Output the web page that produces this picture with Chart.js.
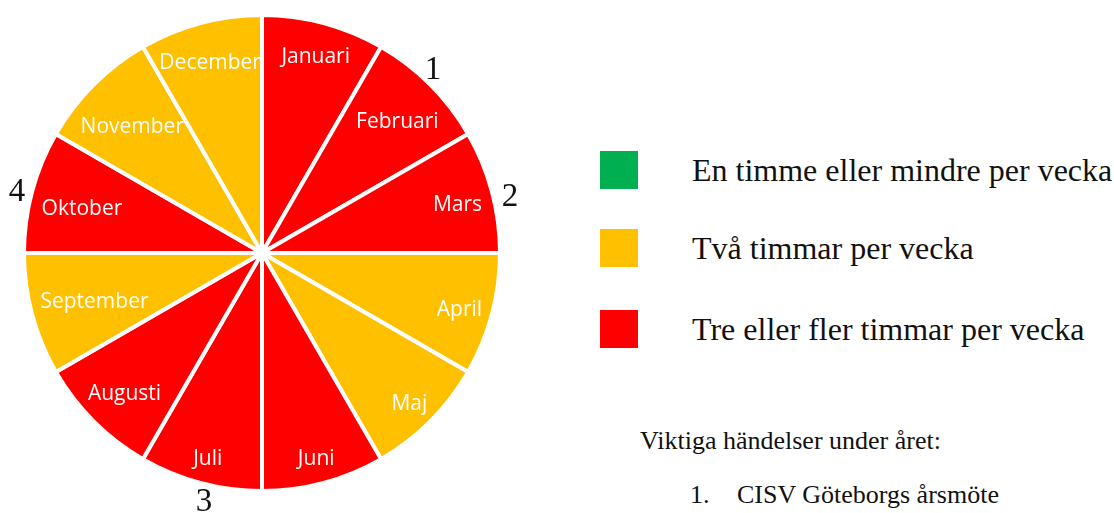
<!DOCTYPE html>
<html>
<head>
<meta charset="utf-8">
<script src="https://cdn.jsdelivr.net/npm/chart.js@4"></script>
<style>
    body { margin: 0; background: #fff; width: 1114px; height: 513px; overflow: hidden; position: relative; }
    #wrap { position: absolute; left: 22px; top: 13px; width: 480px; height: 480px; }
    .serif { position: absolute; font-family: "Liberation Serif", "DejaVu Serif", serif; color: #111; white-space: nowrap; line-height: 1; }
    .num { font-size: 33px; transform: translate(-50%, -50%); }
    .box { position: absolute; left: 600px; width: 38px; height: 38px; }
    .leg { font-size: 32px; left: 692px; }
    .note { font-size: 26px; }
</style>
</head>
<body>
<div id="wrap"><canvas id="yearChart"></canvas></div>

<div class="serif num" style="left:433px; top:68px;">1</div>
<div class="serif num" style="left:510px; top:195px;">2</div>
<div class="serif num" style="left:204px; top:500px;">3</div>
<div class="serif num" style="left:17px; top:190px;">4</div>

<div id="legend"></div>

<div class="serif note" style="left:640px; top:428px;">Viktiga händelser under året:</div>
<div class="serif note" style="left:690px; top:482px;">1.</div>
<div class="serif note" style="left:737px; top:482px;">CISV Göteborgs årsmöte</div>

<script>
// Activity per month
const months = ['Januari', 'Februari', 'Mars', 'April', 'Maj', 'Juni',
    'Juli', 'Augusti', 'September', 'Oktober', 'November', 'December'];
const monthShare = [1, 1, 1, 1, 1, 1, 1, 1, 1, 1, 1, 1];
// 0 = en timme eller mindre, 1 = två timmar, 2 = tre eller fler
const monthLevel = [2, 2, 2, 1, 1, 2, 2, 2, 1, 2, 1, 1];
const levelLabels = ['En timme eller mindre per vecka', 'Två timmar per vecka', 'Tre eller fler timmar per vecka'];
const levelColors = ['#00B050', '#FFC000', '#FF0000'];

// Legend (HTML)
const legendTops = [151, 229, 310];
const legendEl = document.getElementById('legend');
levelLabels.forEach(function(label, i) {
    const box = document.createElement('div');
    box.className = 'box';
    box.style.top = legendTops[i] + 'px';
    box.style.background = levelColors[i];
    legendEl.appendChild(box);
    const txt = document.createElement('div');
    txt.className = 'serif leg';
    txt.style.top = (legendTops[i] + 3) + 'px';
    txt.textContent = label;
    legendEl.appendChild(txt);
});

// Month names inside the slices, pulled in so the text box stays inside the pie
const sliceLabels = {
    id: 'sliceLabels',
    afterDatasetsDraw(chart) {
        const ctx = chart.ctx;
        const meta = chart.getDatasetMeta(0);
        ctx.save();
        ctx.fillStyle = '#fff';
        ctx.font = '21px "Open Sans", sans-serif';
        ctx.textAlign = 'center';
        ctx.textBaseline = 'middle';
        meta.data.forEach(function(arc, i) {
            const p = arc.getProps(['x', 'y', 'startAngle', 'endAngle', 'outerRadius'], true);
            const mid = (p.startAngle + p.endAngle) / 2;
            const hw = ctx.measureText(months[i]).width / 2;
            const hh = 10;
            const limit = p.outerRadius - 9;
            const cx = Math.cos(mid), cy = Math.sin(mid);
            let r = p.outerRadius * 0.88;
            while (r > 0) {
                const fx = Math.abs(cx * r) + hw, fy = Math.abs(cy * r) + hh;
                if (Math.sqrt(fx * fx + fy * fy) <= limit) break;
                r -= 1;
            }
            ctx.fillText(months[i], p.x + cx * r, p.y + cy * r + 4);
        });
        ctx.restore();
    }
};

document.addEventListener('DOMContentLoaded', function() {
    const el = document.getElementById('yearChart');
    new Chart(el, {
        type: 'pie',
        data: {
            labels: months,
            datasets: [{
                data: monthShare,
                backgroundColor: monthLevel.map(l => levelColors[l]),
                borderColor: '#ffffff',
                borderWidth: 4
            }]
        },
        options: {
            responsive: true,
            maintainAspectRatio: false,
            animation: false,
            layout: { padding: 0 },
            plugins: {
                legend: { display: false },
                tooltip: { enabled: false }
            }
        },
        plugins: [sliceLabels]
    });
});
</script>
</body>
</html>
